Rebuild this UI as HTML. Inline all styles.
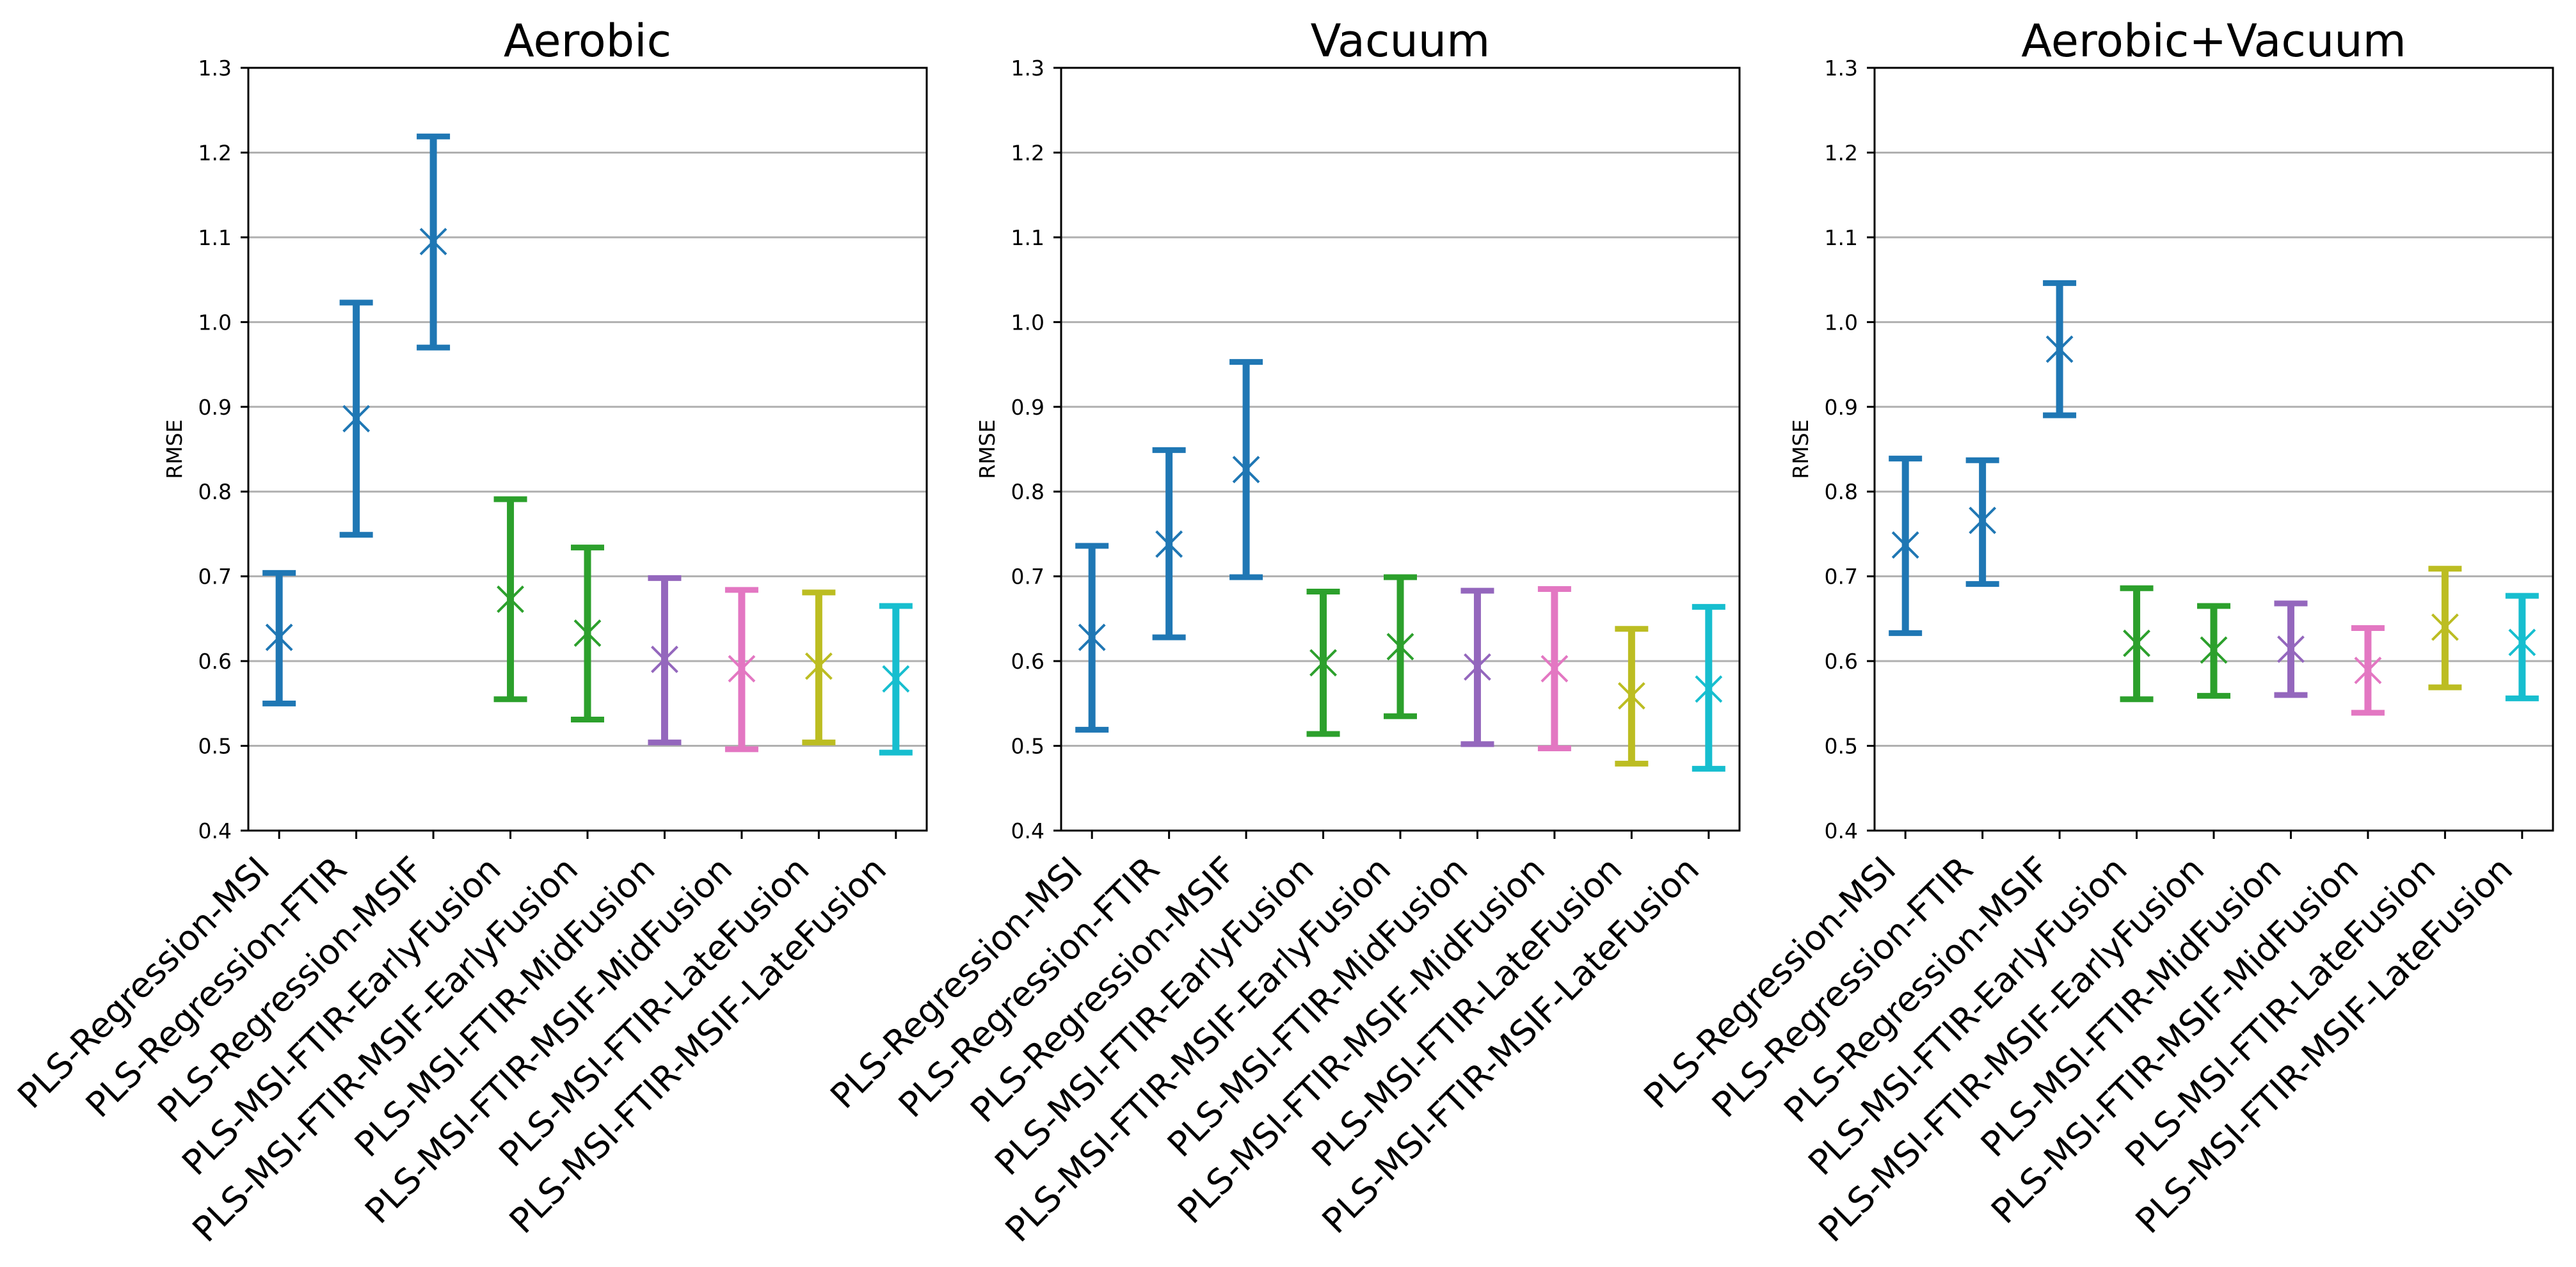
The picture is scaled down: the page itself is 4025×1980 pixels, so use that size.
<!DOCTYPE html>
<html><head><meta charset="utf-8"><style>
html,body{margin:0;padding:0;background:#fff;}
svg{display:block;font-family:"DejaVu Sans","Liberation Sans",sans-serif;}
</style></head>
<body>
<svg id="chart" width="4025" height="1980" viewBox="0 0 4025 1980" xmlns="http://www.w3.org/2000/svg"></svg>
<script>
const categories = ["PLS-Regression-MSI","PLS-Regression-FTIR","PLS-Regression-MSIF","PLS-MSI-FTIR-EarlyFusion","PLS-MSI-FTIR-MSIF-EarlyFusion","PLS-MSI-FTIR-MidFusion","PLS-MSI-FTIR-MSIF-MidFusion","PLS-MSI-FTIR-LateFusion","PLS-MSI-FTIR-MSIF-LateFusion"];
const panelTitles = ["Aerobic","Vacuum","Aerobic+Vacuum"];
const yTicks = [0.4,0.5,0.6,0.7,0.8,0.9,1.0,1.1,1.2,1.3];
const seriesColors = ["#1f77b4","#1f77b4","#1f77b4","#2ca02c","#2ca02c","#9467bd","#e377c2","#bcbd22","#17becf"];
const aerobicMean = [0.628,0.886,1.095,0.673,0.633,0.602,0.591,0.594,0.579];
const aerobicLow  = [0.550,0.749,0.970,0.555,0.531,0.504,0.496,0.504,0.492];
const aerobicHigh = [0.704,1.023,1.219,0.791,0.734,0.698,0.684,0.681,0.665];
const vacuumMean = [0.628,0.738,0.826,0.598,0.617,0.593,0.591,0.559,0.567];
const vacuumLow  = [0.519,0.628,0.699,0.514,0.535,0.502,0.497,0.479,0.473];
const vacuumHigh = [0.736,0.849,0.953,0.682,0.699,0.683,0.685,0.638,0.664];
const bothMean = [0.737,0.766,0.968,0.621,0.613,0.614,0.589,0.640,0.622];
const bothLow  = [0.633,0.691,0.890,0.555,0.559,0.560,0.539,0.569,0.556];
const bothHigh = [0.839,0.837,1.046,0.686,0.665,0.668,0.639,0.709,0.677];

const panels = [
  {mean: aerobicMean, low: aerobicLow, high: aerobicHigh},
  {mean: vacuumMean, low: vacuumLow, high: vacuumHigh},
  {mean: bothMean, low: bothLow, high: bothHigh}
];
const NS = "http://www.w3.org/2000/svg";
const svg = document.getElementById("chart");
const X0 = [388,1658,2929], W = 1060, TOP = 106, BOT = 1298;
const yMin = 0.4, yMax = 1.3;
function el(tag, attrs, parent){const e=document.createElementNS(NS,tag);for(const k in attrs)e.setAttribute(k,attrs[k]);(parent||svg).appendChild(e);return e;}

panels.forEach((p, pi) => {
  const x0 = X0[pi];
  const n = categories.length;
  const xScale = i => x0 + (i + 0.4) * W / (n - 1 + 0.8);
  const yScale = v => BOT - (v - yMin) / (yMax - yMin) * (BOT - TOP);
  const g = el("g", {});
  
  
  yTicks.forEach(t => {
    const y = yScale(t);
    const gl = el("line", {x1:x0, x2:x0+W, y1:y, y2:y, stroke:"#b0b0b0", "stroke-width":3}, g);
    
    
    const tk = el("line", {x1:x0-12, x2:x0, y1:y, y2:y, stroke:"#000", "stroke-width":3}, g);
    
    
    const tl = el("text", {x:x0-26, y:y+12, "text-anchor":"end", "font-size":33, fill:"#000"}, g);
    tl.textContent = t.toFixed(1);
    
    
  });
  categories.forEach((c, i) => {
    const x = xScale(i), col = seriesColors[i];
    const s = el("g", {}, g);
    
    
    const yl = yScale(p.low[i]), yh = yScale(p.high[i]), ym = yScale(p.mean[i]);
    el("line", {x1:x, x2:x, y1:yl, y2:yh, stroke:col, "stroke-width":11}, s);
    el("line", {x1:x-26, x2:x+26, y1:yl, y2:yl, stroke:col, "stroke-width":9}, s);
    el("line", {x1:x-26, x2:x+26, y1:yh, y2:yh, stroke:col, "stroke-width":9}, s);
    const m = 20;
    const mk = el("path", {d:`M${x-m},${ym-m}L${x+m},${ym+m}M${x-m},${ym+m}L${x+m},${ym-m}`, stroke:col, "stroke-width":4, fill:"none"}, s);
    
    
    const xt = el("line", {x1:x, x2:x, y1:BOT, y2:BOT+13, stroke:"#000", "stroke-width":3}, g);
    
    
    const ax = x - 12, ay = 1362;
    const lbl = el("text", {x:ax, y:ay, "text-anchor":"end", "font-size":54, fill:"#000", transform:`rotate(-45 ${ax} ${ay})`}, g);
    lbl.textContent = c;
    
    
  });
  const fr = el("rect", {x:x0, y:TOP, width:W, height:BOT-TOP, fill:"none", stroke:"#000", "stroke-width":3}, g);
  
  
  const ttl = el("text", {x:x0+W/2, y:88, "text-anchor":"middle", "font-size":70, fill:"#000"}, g);
  ttl.textContent = panelTitles[pi];
  
  
  const cy = (TOP+BOT)/2, cx = x0 - 104;
  const yt = el("text", {x:cx, y:cy, "text-anchor":"middle", "font-size":33, fill:"#000", transform:`rotate(-90 ${cx} ${cy})`}, g);
  yt.textContent = "RMSE";
  
  
});
</script>
</body></html>
